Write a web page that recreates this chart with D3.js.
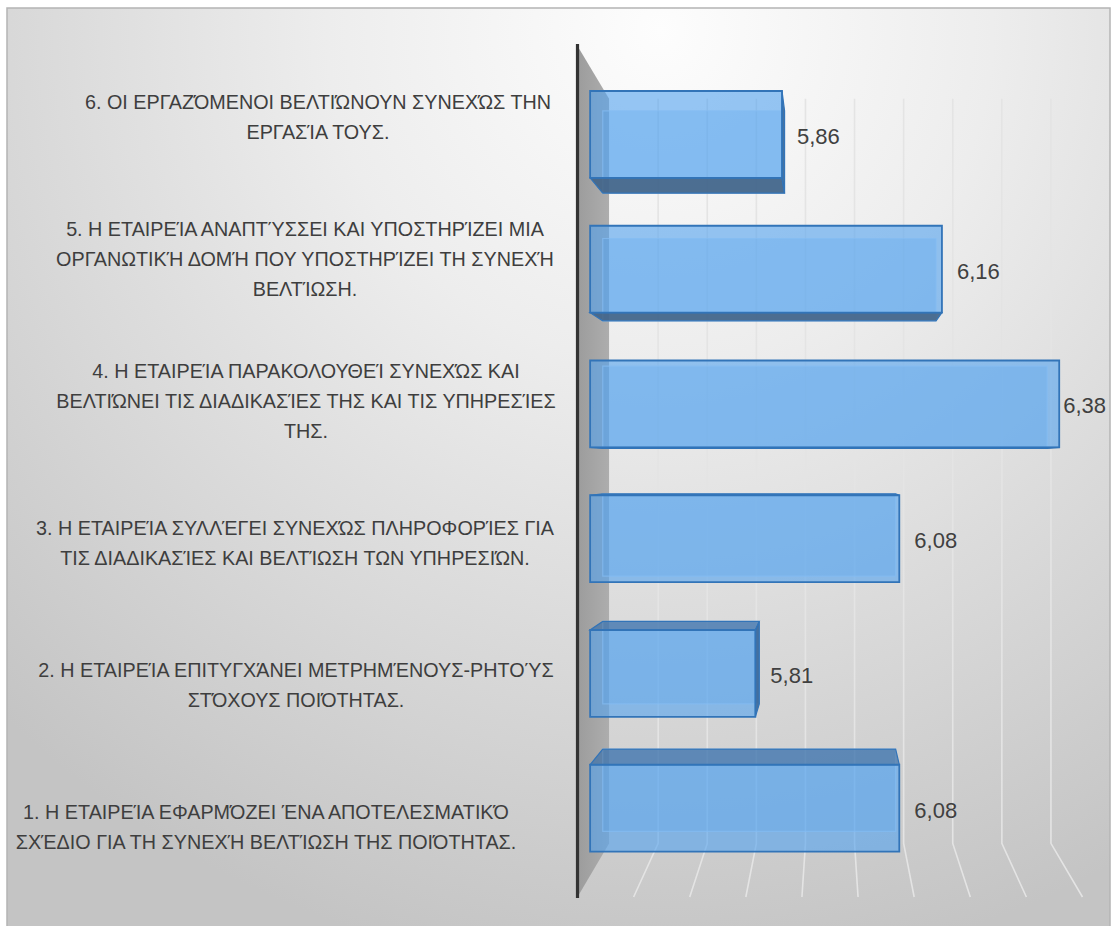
<!DOCTYPE html>
<html>
<head>
<meta charset="utf-8">
<script src="https://cdn.jsdelivr.net/npm/d3@7"></script>
<style>
  html, body { margin: 0; padding: 0; background: #ffffff; }
  svg { display: block; }
</style>
</head>
<body>
<svg id="chart" width="1112" height="926"></svg>
<script>
// ---- data -------------------------------------------------------------
// Survey items, listed bottom to top as they appear along the axis
const categories = ["1", "2", "3", "4", "5", "6"];
const labelLines = [
  ["1.  Η ΕΤΑΙΡΕΊΑ ΕΦΑΡΜΌΖΕΙ ΈΝΑ ΑΠΟΤΕΛΕΣΜΑΤΙΚΌ", "ΣΧΈΔΙΟ ΓΙΑ ΤΗ ΣΥΝΕΧΉ ΒΕΛΤΊΩΣΗ ΤΗΣ ΠΟΙΌΤΗΤΑΣ."],
  ["2.  Η ΕΤΑΙΡΕΊΑ ΕΠΙΤΥΓΧΆΝΕΙ ΜΕΤΡΗΜΈΝΟΥΣ-ΡΗΤΟΎΣ", "ΣΤΌΧΟΥΣ ΠΟΙΌΤΗΤΑΣ."],
  ["3.  Η ΕΤΑΙΡΕΊΑ ΣΥΛΛΈΓΕΙ ΣΥΝΕΧΏΣ ΠΛΗΡΟΦΟΡΊΕΣ ΓΙΑ", "ΤΙΣ ΔΙΑΔΙΚΑΣΊΕΣ ΚΑΙ  ΒΕΛΤΊΩΣΗ ΤΩΝ ΥΠΗΡΕΣΙΏΝ."],
  ["4.  Η ΕΤΑΙΡΕΊΑ ΠΑΡΑΚΟΛΟΥΘΕΊ ΣΥΝΕΧΏΣ ΚΑΙ", "ΒΕΛΤΙΏΝΕΙ ΤΙΣ ΔΙΑΔΙΚΑΣΊΕΣ ΤΗΣ ΚΑΙ ΤΙΣ ΥΠΗΡΕΣΊΕΣ", "ΤΗΣ."],
  ["5. Η ΕΤΑΙΡΕΊΑ ΑΝΑΠΤΎΣΣΕΙ ΚΑΙ ΥΠΟΣΤΗΡΊΖΕΙ ΜΙΑ", "ΟΡΓΑΝΩΤΙΚΉ ΔΟΜΉ ΠΟΥ ΥΠΟΣΤΗΡΊΖΕΙ ΤΗ ΣΥΝΕΧΉ", "ΒΕΛΤΊΩΣΗ."],
  ["6.  ΟΙ ΕΡΓΑΖΌΜΕΝΟΙ ΒΕΛΤΙΏΝΟΥΝ ΣΥΝΕΧΏΣ ΤΗΝ", "ΕΡΓΑΣΊΑ ΤΟΥΣ."]
];
// Mean score per item
const values = [6.08, 5.81, 6.08, 6.38, 6.16, 5.86];
// Value axis: minimum and the gridline positions
const valueMin = 5.5;
const valueTicks = [5.6, 5.7, 5.8, 5.9, 6.0, 6.1, 6.2, 6.3, 6.4];

// ---- layout -----------------------------------------------------------
const W = 1112, H = 926;
const frame = { x: 7, y: 8, w: 1103, h: 940 };
// front plane of the 3-D plot box
const plot = { left: 577.5, right: 1082.5, top: 46, bottom: 897 };
// vanishing point and depth shrink
const vp = { x: 830, y: 468 };
const depthShrink = 0.125;
const barDepth = [0.4, 0.8];          // bar front / back face depth
const labelCentreX = [266, 296, 295, 306, 305, 318];
const labelColumnWidth = 518;
const lineGap = 30;
const labelFontSize = 21;

const svg = d3.select("#chart");
const defs = svg.append("defs");

const bg = defs.append("radialGradient")
  .attr("id", "bgGrad")
  .attr("gradientUnits", "userSpaceOnUse")
  .attr("cx", 660).attr("cy", 30).attr("r", 950);
[[0, "#fdfdfd"], [0.35, "#ededed"], [0.7, "#d7d7d7"], [1, "#c4c4c4"]]
  .forEach(([o, c]) => bg.append("stop").attr("offset", o).attr("stop-color", c));

const wallGrad = defs.append("linearGradient")
  .attr("id", "wallGrad").attr("x1", 0).attr("x2", 1).attr("y1", 0).attr("y2", 0);
wallGrad.append("stop").attr("offset", 0).attr("stop-color", "#9c9c9c");
wallGrad.append("stop").attr("offset", 1).attr("stop-color", "#adadad");

// chart area
svg.append("rect")
  .attr("x", frame.x).attr("y", frame.y)
  .attr("width", frame.w).attr("height", frame.h)
  .attr("fill", "url(#bgGrad)")
  .attr("stroke", "#b4b4b4").attr("stroke-width", 1.5);

// scales on the front plane
const x = d3.scaleLinear()
  .domain([valueMin, d3.max(valueTicks)])
  .range([plot.left, plot.right]);

const y = d3.scaleBand()
  .domain(categories.slice().reverse())
  .range([plot.top, plot.bottom])
  .paddingInner(0.355)
  .paddingOuter(0.1775);

// perspective projection: depth 0 = front plane, 1 = back wall
function project(px, py, d) {
  const s = 1 - depthShrink * d;
  return [vp.x + (px - vp.x) * s, vp.y + (py - vp.y) * s];
}
const poly = pts => "M" + pts.map(p => p.join(",")).join("L") + "Z";
const line = d3.line();

// ---- walls and gridlines ----------------------------------------------
const grid = svg.append("g").attr("class", "grid");
grid.selectAll("path")
  .data(valueTicks)
  .join("path")
  .attr("d", v => line([
    project(x(v), plot.top, 1),
    project(x(v), plot.bottom, 1),
    project(x(v), plot.bottom, 0)
  ]))
  .attr("fill", "none")
  .attr("stroke", "#e4e4e4")
  .attr("stroke-width", 1.6);

// side wall behind the category axis
svg.append("path")
  .attr("d", poly([
    project(plot.left, plot.top, 0),
    project(plot.left, plot.top, 1),
    project(plot.left, plot.bottom, 1),
    project(plot.left, plot.bottom, 0)
  ]))
  .attr("fill", "url(#wallGrad)");

// ---- bars -------------------------------------------------------------
const barData = categories.map((c, i) => ({ cat: c, value: values[i] }));
const [dF, dB] = barDepth;
const barColor = "rgb(82,162,238)";
const edge = "#3274b8";

const bars = svg.append("g").attr("class", "bars")
  .selectAll("g")
  .data(barData)
  .join("g");

bars.each(function (d) {
  const g = d3.select(this);
  const x0 = plot.left, x1 = x(d.value);
  const y0 = y(d.cat), y1 = y0 + y.bandwidth();
  const F = {
    tl: project(x0, y0, dF), tr: project(x1, y0, dF),
    br: project(x1, y1, dF), bl: project(x0, y1, dF)
  };
  const B = {
    tl: project(x0, y0, dB), tr: project(x1, y0, dB),
    br: project(x1, y1, dB), bl: project(x0, y1, dB)
  };
  const showBottom = y1 < vp.y;
  const showTop = y0 > vp.y;
  const showRight = x1 < vp.x;

  // back face, seen through the translucent front
  g.append("path")
    .attr("d", poly([B.tl, B.tr, B.br, B.bl]))
    .attr("fill", barColor).attr("fill-opacity", 0.25)
    .attr("stroke", "#cfe4fa").attr("stroke-opacity", 0.7).attr("stroke-width", 1.2);

  if (showBottom) {
    g.append("path")
      .attr("d", poly([F.bl, F.br, B.br, B.bl]))
      .attr("fill", "#416489").attr("fill-opacity", 0.92)
      .attr("stroke", edge).attr("stroke-width", 1.2);
  }
  if (showTop) {
    g.append("path")
      .attr("d", poly([F.tl, F.tr, B.tr, B.tl]))
      .attr("fill", "#3d70a8").attr("fill-opacity", 0.72)
      .attr("stroke", edge).attr("stroke-width", 1.2);
  }
  if (showRight) {
    g.append("path")
      .attr("d", poly([F.tr, B.tr, B.br, F.br]))
      .attr("fill", "#2f5f94").attr("fill-opacity", 0.85)
      .attr("stroke", edge).attr("stroke-width", 1.2);
  }

  // front face
  g.append("path")
    .attr("d", poly([F.tl, F.tr, F.br, F.bl]))
    .attr("fill", barColor).attr("fill-opacity", 0.6)
    .attr("stroke", edge).attr("stroke-width", 1.8);

  d.labelX = F.tr[0];
  d.labelY = (F.tr[1] + F.br[1]) / 2;
});

// category axis line at the front edge of the side wall
svg.append("line")
  .attr("x1", plot.left).attr("x2", plot.left)
  .attr("y1", plot.top - 2).attr("y2", plot.bottom + 1)
  .attr("stroke", "#333333").attr("stroke-width", 3.2);

// ---- value labels -----------------------------------------------------
const fmt = v => d3.format(".2f")(v).replace(".", ",");
const frameRight = frame.x + frame.w;
svg.append("g").attr("class", "values")
  .selectAll("text")
  .data(barData)
  .join("text")
  .attr("font-family", "'Liberation Sans', Arial, sans-serif")
  .attr("font-size", 22)
  .attr("fill", "#404040")
  .attr("dominant-baseline", "central")
  .attr("y", d => d.labelY + 2)
  .text(d => fmt(d.value))
  .attr("x", function (d) {
    const w = this.getComputedTextLength();
    return Math.min(d.labelX + 15, frameRight - 4 - w);
  });

// ---- category labels --------------------------------------------------
const catG = svg.append("g").attr("class", "categories")
  .attr("font-family", "'Liberation Sans', Arial, sans-serif")
  .attr("font-size", labelFontSize)
  .attr("fill", "#3e3e3e")
  .attr("text-anchor", "middle");

const labels = catG.selectAll("g")
  .data(categories.map((c, i) => ({ cat: c, lines: labelLines[i], cx: labelCentreX[i] })))
  .join("g");

labels.each(function (d) {
  const g = d3.select(this);
  const cy = y(d.cat) + y.bandwidth() / 2;
  const n = d.lines.length;
  d.lines.forEach((t, k) => {
    g.append("text")
      .attr("x", d.cx)
      .attr("y", cy + (k - (n - 1) / 2) * lineGap)
      .attr("dominant-baseline", "central")
      .text(t);
  });
});

// condense the label rows so the widest one fits the label column
const rows = catG.selectAll("text");
const natural = [];
rows.each(function () { natural.push(this.getComputedTextLength()); });
const squeeze = Math.min(1, labelColumnWidth / d3.max(natural));
rows.each(function (_, i) {
  d3.select(this)
    .attr("textLength", natural[i] * squeeze)
    .attr("lengthAdjust", "spacingAndGlyphs");
});
</script>
</body>
</html>
